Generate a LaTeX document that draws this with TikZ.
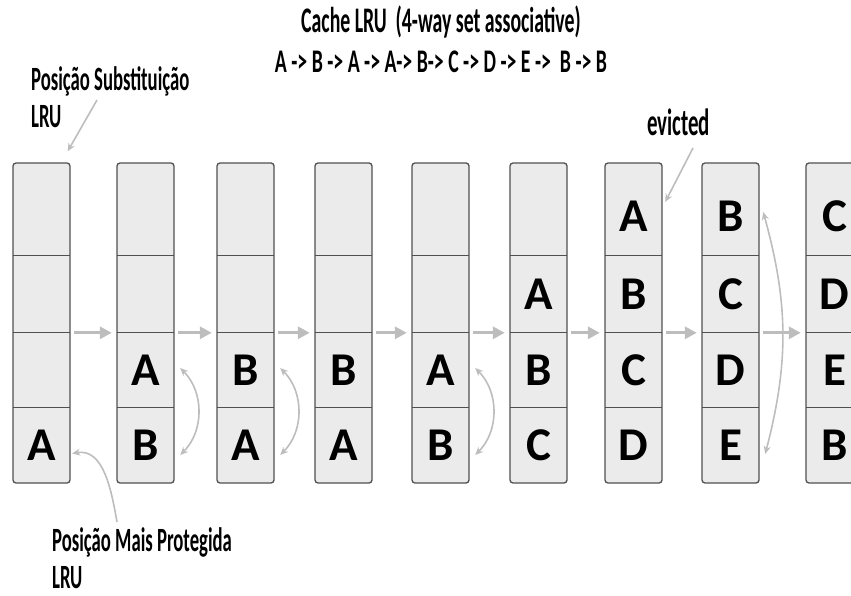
\documentclass[tikz,border=0pt]{standalone}
\usepackage{fontspec}
\setmainfont{Carlito}
\newfontfamily\condfont[FakeStretch=0.55]{Carlito}
\newfontfamily\seqfont[FakeStretch=0.6]{Carlito}
\usetikzlibrary{arrows.meta,calc}
\definecolor{cellgray}{HTML}{EBEBEB}
\definecolor{arrgray}{HTML}{BDBDBD}
\definecolor{edgegray}{HTML}{505050}
\tikzset{column/.style={draw=edgegray,line width=1.3pt,rounded corners=3pt,fill=cellgray,minimum width=57pt,inner sep=0pt},
  cell/.style={minimum width=57pt,inner sep=0pt,font=\bfseries\fontsize{47}{47}\selectfont},
  divider/.style={edgegray,line width=1.1pt},
  flow/.style={-{Triangle[length=12pt,width=12pt]},line width=3.3pt,arrgray},
  swap/.style={{Stealth[length=8pt,width=7pt]}-{Stealth[length=8pt,width=7pt]},line width=1.6pt,arrgray},
  note/.style={-{Stealth[length=8pt,width=7pt]},line width=1.6pt,arrgray},
  notetext/.style={font=\condfont\bfseries\fontsize{34}{37}\selectfont,align=left,inner sep=0pt},
  title/.style={font=\condfont\bfseries\fontsize{36}{36}\selectfont,inner sep=0pt}}

\begin{document}
\begin{tikzpicture}[x=1pt,y=1pt]
\useasboundingbox (0,0) rectangle (851,595);
\clip (0,0) rectangle (851,595);
\node[title,anchor=base] (title) at (441,562) {Cache LRU\ \ (4-way set associative)};
\node[title,font=\seqfont\bfseries\fontsize{33}{36}\selectfont,anchor=base] (seq) at (441,522) {A -> B -> A -> A-> B-> C -> D -> E ->\ \ B -> B};
\foreach \i/\x/\a/\b/\c/\d in {1/13/{}/{}/{}/A,2/117/{}/{}/A/B,3/217/{}/{}/B/A,4/315/{}/{}/B/A,5/412/{}/{}/A/B,
  6/510/{}/A/B/C,7/605/A/B/C/D,8/702/B/C/D/E,9/806/C/D/E/B}{
  \node[column,minimum height=320pt] (col\i) at (\x+28.5,272) {};
  \node[cell,minimum height=93pt,text height=45pt] (c\i-1) at (\x+28.5,385.5) {\a};
  \node[cell,minimum height=77pt] (c\i-2) at (\x+28.5,300.5) {\b};
  \node[cell,minimum height=75pt] (c\i-3) at (\x+28.5,224.5) {\c};
  \node[cell,minimum height=75pt] (c\i-4) at (\x+28.5,149.5) {\d};
  \foreach \r in {2,3,4}{\draw[divider] (c\i-\r.north west) -- (c\i-\r.north east);}
}
\foreach \i/\j in {1/2,2/3,3/4,4/5,5/6,6/7,7/8,8/9}{
  \draw[flow] ([xshift=4pt]c\i-3.north east) -- ([xshift=-5pt]c\j-3.north west);
}
\foreach \i in {2,3,5}{
  \draw[swap] ([shift={(6,2.5)}]c\i-3.east) to[bend left=45] ([shift={(6,-9.5)}]c\i-4.east);
}
\draw[swap] ([shift={(4,-2.5)}]c8-1.east) to[bend left=15] ([shift={(6,-8.5)}]c8-4.east);
\node[notetext,anchor=base west] (subst) at (31,467) {Posição Substituição\\LRU};
\coordinate (substarr) at (97,495);
\draw[note] (substarr) -- ([shift={(-3,11)}]col1.north east);
\node[notetext,font=\condfont\bfseries\fontsize{38}{37}\selectfont,anchor=base west] (evict) at (647,459) {evicted};
\coordinate (evictarr) at (693,447);
\draw[note] (evictarr) -- ([shift={(3,7.5)}]c7-1.east);
\node[notetext,anchor=base west] (prot) at (52,7) {Posição Mais Protegida\\LRU};
\coordinate (protarr) at (117,73);
\draw[note] (protarr) to[out=100,in=10] ([shift={(2,-8)}]c1-4.east);
\end{tikzpicture}
\end{document}
